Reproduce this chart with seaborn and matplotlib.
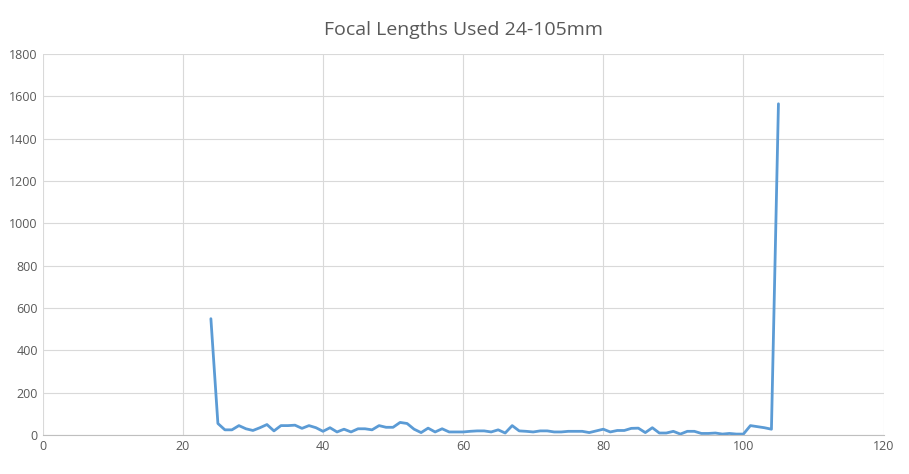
import matplotlib
matplotlib.use("Agg")
import matplotlib.pyplot as plt
import seaborn as sns
import pandas as pd

focal = list(range(24, 106))
counts = [550, 55, 25, 25, 45, 30, 22, 35, 50, 20,
          45, 45, 47, 32, 45, 35, 18, 35, 15, 28,
          15, 30, 30, 25, 45, 37, 37, 60, 55, 28,
          12, 33, 15, 30, 15, 15, 15, 18, 20, 20,
          15, 25, 10, 45, 20, 18, 15, 20, 20, 15,
          15, 18, 18, 18, 12, 20, 28, 15, 22, 22,
          32, 33, 12, 35, 10, 10, 18, 5, 18, 18,
          8, 8, 10, 5, 8, 5, 5, 45, 40, 35,
          28, 1565]

df = pd.DataFrame({"focal": focal, "count": counts})

sns.set_style("whitegrid", {"grid.color": "#d9d9d9"})
plt.rcParams["font.family"] = ["Open Sans", "DejaVu Sans"]

fig, ax = plt.subplots(figsize=(9.09, 4.74), dpi=100)
sns.lineplot(data=df, x="focal", y="count", ax=ax, color="#5b9bd5", linewidth=2)

ax.set_xlim(0, 120)
ax.set_ylim(0, 1800)
ax.set_xticks(range(0, 121, 20))
ax.set_yticks(range(0, 1801, 200))
ax.set_xlabel("")
ax.set_ylabel("")
ax.tick_params(labelsize=9, colors="#595959", length=0)
for s in ["top", "right", "left"]:
    ax.spines[s].set_visible(False)
ax.spines["bottom"].set_color("#bfbfbf")
ax.set_title("Focal Lengths Used 24-105mm", fontsize=14, color="#595959", pad=14)

fig.subplots_adjust(left=0.047, right=0.972, top=0.886, bottom=0.082)
fig.savefig("out.png", dpi=100)
